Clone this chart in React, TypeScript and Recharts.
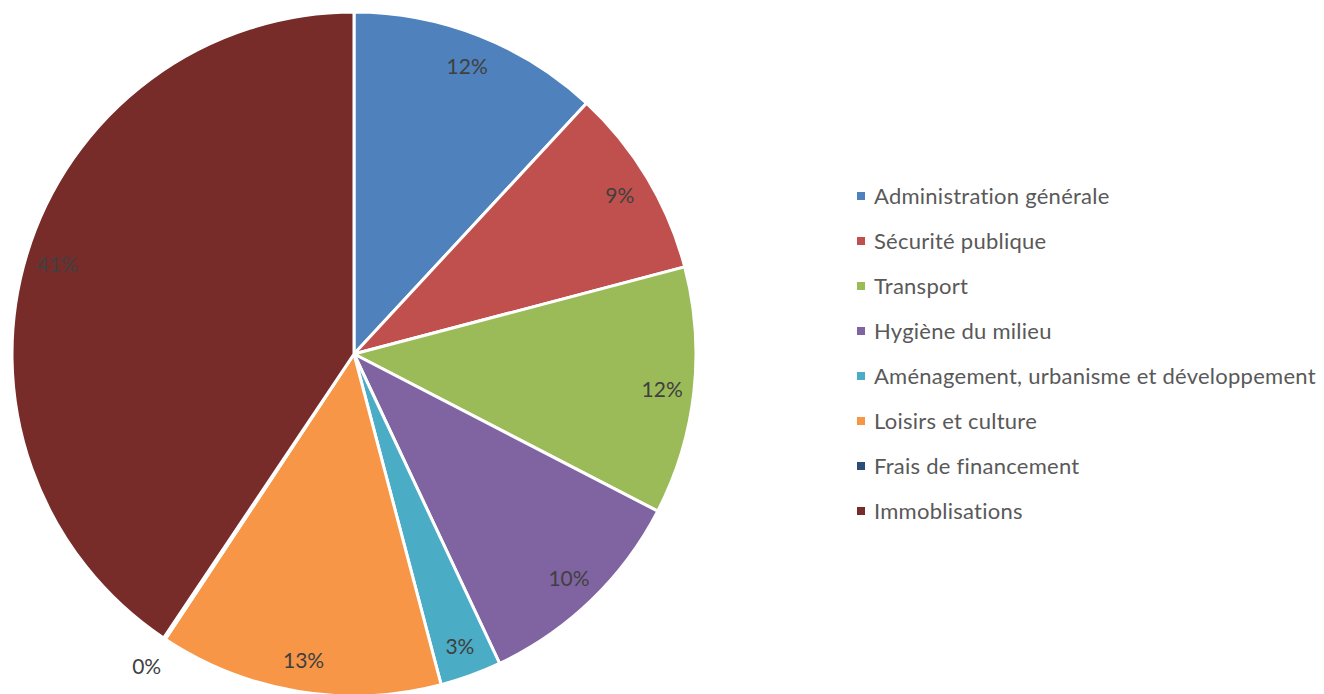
import React from "react";
import { PieChart, Pie, Cell, Legend } from "recharts";

const categories = [
  "Administration générale",
  "Sécurité publique",
  "Transport",
  "Hygiène du milieu",
  "Aménagement, urbanisme et développement",
  "Loisirs et culture",
  "Frais de financement",
  "Immoblisations",
];
const values = [11.9, 9.0, 11.7, 10.4, 2.9, 13.4, 0.1, 40.6];
const colors = ["#4F81BD", "#C0504D", "#9BBB59", "#8064A2", "#4BACC6", "#F79646", "#2C4D75", "#772C2A"];

const data = categories.map((name, i) => ({ name, value: values[i] }));

const FONT = "Lato, 'Open Sans', sans-serif";
const RAD = Math.PI / 180;

const renderLabel = (props: any) => {
  const { cx, cy, outerRadius, midAngle, percent, index } = props;
  const small = percent < 0.01;
  const r = small ? outerRadius + 32 : outerRadius - 32;
  const x = cx + r * Math.cos(-midAngle * RAD);
  const y = cy + r * Math.sin(-midAngle * RAD);
  return (
    <text
      key={`lbl-${index}`}
      x={x}
      y={y}
      textAnchor="middle"
      dominantBaseline="central"
      fill="#404040"
      fontFamily={FONT}
      fontSize={21}
    >
      {`${Math.round(percent * 100)}%`}
    </text>
  );
};

const renderLegend = () => (
  <div style={{ fontFamily: FONT, fontSize: 22, color: "#595959", letterSpacing: 0.25 }}>
    {categories.map((c, i) => (
      <div key={c} style={{ display: "flex", alignItems: "center", height: 45, whiteSpace: "nowrap" }}>
        <span style={{ display: "inline-block", width: 8, height: 8, background: colors[i], marginRight: 9 }} />
        <span>{c}</span>
      </div>
    ))}
  </div>
);

export default function App() {
  return (
    <div style={{ position: "absolute", left: 0, top: 0, width: 1324, height: 694, background: "#fff" }}>
      <PieChart width={1324} height={694} margin={{ top: 0, right: 0, bottom: 0, left: 0 }}>
        <Pie
          data={data}
          dataKey="value"
          nameKey="name"
          cx={354}
          cy={354}
          outerRadius={342}
          startAngle={90}
          endAngle={-270}
          stroke="#FFFFFF"
          strokeWidth={3}
          label={renderLabel}
          labelLine={false}
          isAnimationActive={false}
        >
          {data.map((d, i) => (
            <Cell key={d.name} fill={colors[i]} />
          ))}
        </Pie>
        <Legend
          content={renderLegend}
          wrapperStyle={{ left: 857, top: 173, width: 470 }}
        />
      </PieChart>
    </div>
  );
}
